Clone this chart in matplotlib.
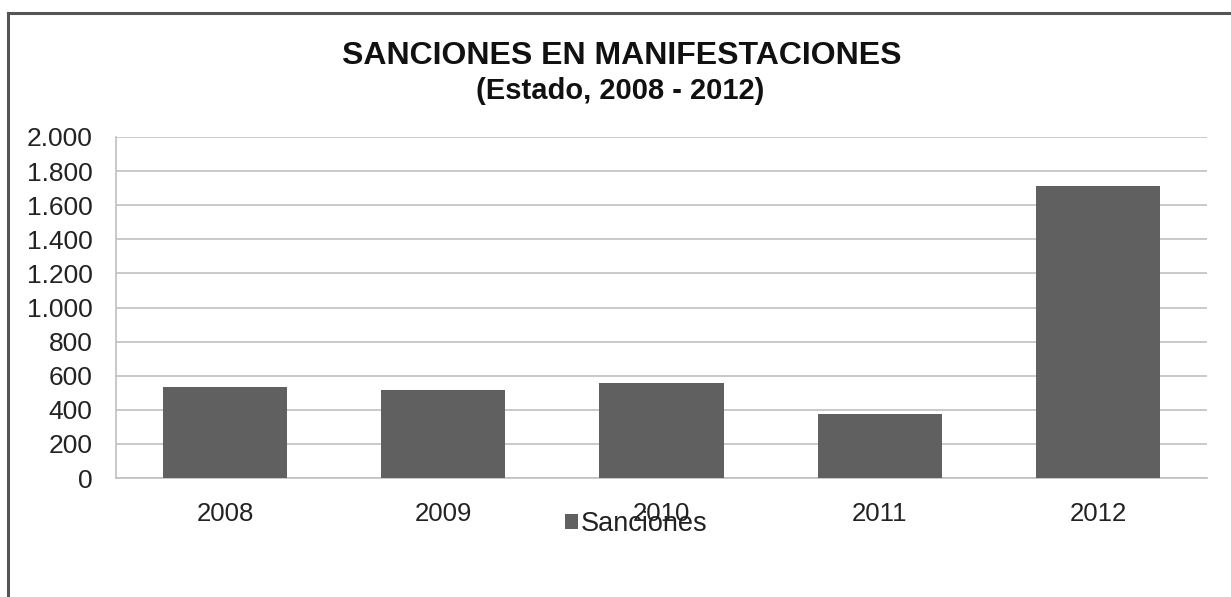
import matplotlib
matplotlib.use("Agg")
import matplotlib.pyplot as plt
from matplotlib.ticker import FuncFormatter

plt.rcParams['font.family'] = ['Liberation Sans', 'DejaVu Sans']

years = ['2008', '2009', '2010', '2011', '2012']
sanciones = [534, 519, 556, 374, 1715]

W, H = 1231, 597
fig = plt.figure(figsize=(W / 100, H / 100), dpi=100)
ax = fig.add_axes([116 / W, 1 - 478 / H, (1207 - 116) / W, (478 - 137) / H])

ax.bar(years, sanciones, width=0.57, color='#606060', zorder=3, label='Sanciones')
ax.set_xlim(-0.5, 4.5)
ax.set_ylim(0, 2000)
ax.set_yticks(range(0, 2001, 200))
ax.yaxis.set_major_formatter(FuncFormatter(lambda v, p: f'{int(v):,}'.replace(',', '.')))
ax.grid(axis='y', color='#c0c0c0', linewidth=1.2, zorder=0)
for s in ['top', 'right']:
    ax.spines[s].set_visible(False)
for s in ['left', 'bottom']:
    ax.spines[s].set_color('#c0c0c0')
    ax.spines[s].set_linewidth(1.2)
ax.tick_params(axis='both', length=0, colors='#222222')
ax.tick_params(axis='y', pad=17, labelsize=19)
ax.tick_params(axis='x', pad=17, labelsize=18.5)

fig.text(622 / W, 1 - 56 / H, 'SANCIONES EN MANIFESTACIONES', ha='center', va='center',
         fontsize=23, fontweight='bold', color='#111111')
fig.text(620 / W, 1 - 91 / H, '(Estado, 2008 - 2012)', ha='center', va='center',
         fontsize=21, fontweight='bold', color='#111111')

leg = fig.legend(loc='center', bbox_to_anchor=(636 / W, 1 - 524 / H), frameon=False,
                 fontsize=19.5, handlelength=0.5, handleheight=0.5, handletextpad=0.1)
for t in leg.get_texts():
    t.set_color('#222222')

# outer frame (only top and left edges show)
fig.add_artist(plt.Line2D([8 / W, 8 / W], [0, 1 - 13 / H], color='#555555', linewidth=2.2))
fig.add_artist(plt.Line2D([8 / W, 1], [1 - 13 / H, 1 - 13 / H], color='#555555', linewidth=2.2))

fig.savefig('out.png', dpi=100)
